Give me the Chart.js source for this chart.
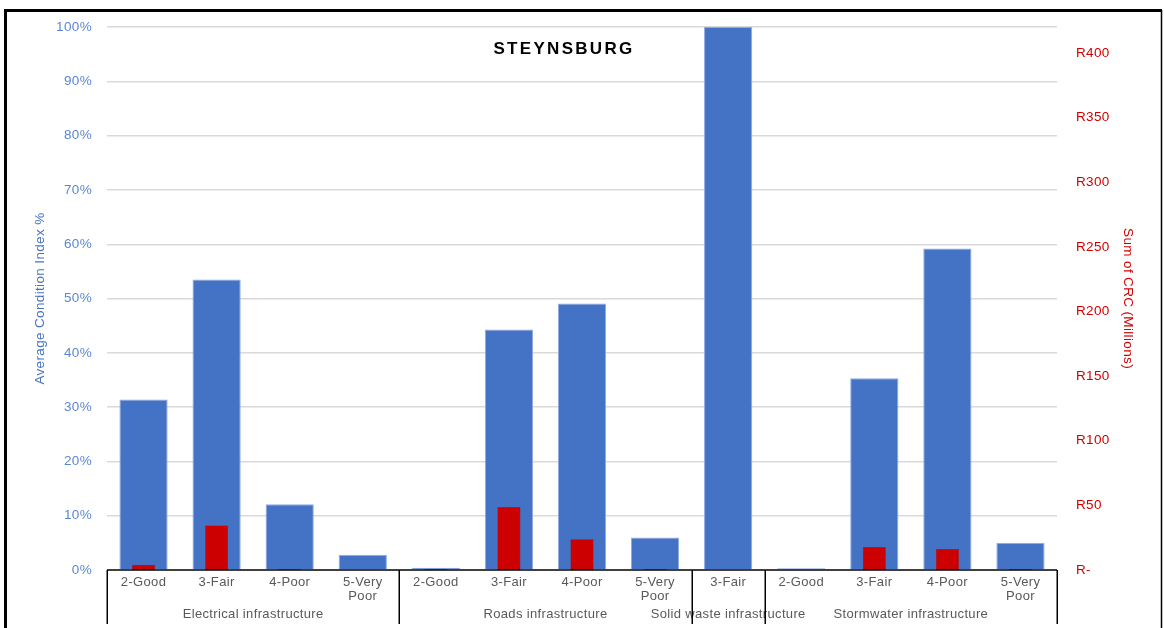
<!DOCTYPE html>
<html>
<head>
<meta charset="utf-8">
<script src="https://cdn.jsdelivr.net/npm/chart.js@4.4.1/dist/chart.umd.min.js"></script>
<style>
  html, body { margin: 0; padding: 0; background: #ffffff; }
  #wrap { position: relative; width: 1164px; height: 628px; }
</style>
</head>
<body>
<div id="wrap"><canvas id="chart" width="1164" height="628"></canvas></div>
<script>
// Condition categories along the x axis (multi-line where the label wraps)
const categories = [
  '2-Good', '3-Fair', '4-Poor', ['5-Very', 'Poor'],
  '2-Good', '3-Fair', '4-Poor', ['5-Very', 'Poor'],
  '3-Fair',
  '2-Good', '3-Fair', '4-Poor', ['5-Very', 'Poor']
];

// Infrastructure groups and how many categories each spans
const groupNames = [
  'Electrical infrastructure',
  'Roads infrastructure',
  'Solid waste infrastructure',
  'Stormwater infrastructure'
];
const groupSizes = [4, 4, 1, 4];

// Average condition index (%)
const conditionIndex = [31.4, 53.5, 12.1, 2.8, 0.4, 44.3, 49.1, 6.0, 100, 0.3, 35.3, 59.2, 5.0];

// Sum of CRC (R millions)
const crcMillions = [4.0, 34.5, 0.5, 0, 0.5, 48.8, 23.7, 0.5, 0, 0, 17.8, 16.3, 0.5];

const chartTitle = 'STEYNSBURG';
const leftAxisTitle = 'Average Condition Index %';
const rightAxisTitle = 'Sum of CRC (Millions)';

const FONT = "'Liberation Sans', Arial, sans-serif";
const TRACKING = '0.35px';

// Slightly looser text tracking for all labels
const tracking = {
  id: 'tracking',
  beforeUpdate(chart) { if ('letterSpacing' in chart.ctx) chart.ctx.letterSpacing = TRACKING; },
  beforeDraw(chart) { if ('letterSpacing' in chart.ctx) chart.ctx.letterSpacing = TRACKING; }
};

// Title, outer frame, category axis line and group labels/separators
const decorations = {
  id: 'decorations',
  afterDatasetsDraw(chart) {
    const ctx = chart.ctx;
    const x = chart.scales.x;
    const area = chart.chartArea;
    ctx.save();

    // axis baseline
    ctx.strokeStyle = '#000000';
    ctx.lineWidth = 1.5;
    ctx.beginPath();
    ctx.moveTo(area.left, area.bottom);
    ctx.lineTo(area.right, area.bottom);
    ctx.stroke();

    // group separators and labels
    const half = (x.getPixelForValue(1) - x.getPixelForValue(0)) / 2;
    let start = 0;
    const bounds = [x.getPixelForValue(0) - half];
    ctx.fillStyle = '#595959';
    ctx.font = '13px ' + FONT;
    ctx.textAlign = 'center';
    ctx.textBaseline = 'middle';
    groupSizes.forEach((n, i) => {
      const l = x.getPixelForValue(start) - half;
      const r = x.getPixelForValue(start + n - 1) + half;
      bounds.push(r);
      ctx.fillText(groupNames[i], (l + r) / 2, 614);
      start += n;
    });
    ctx.lineWidth = 1.5;
    ctx.beginPath();
    bounds.forEach(b => {
      const bx = Math.round(b) + 0.25;
      ctx.moveTo(bx, area.bottom);
      ctx.lineTo(bx, 624);
    });
    ctx.stroke();

    // chart title
    ctx.fillStyle = '#000000';
    ctx.font = 'bold 17px ' + FONT;
    if ('letterSpacing' in ctx) ctx.letterSpacing = '2.3px';
    ctx.fillText(chartTitle, 564, 49);

    // outer frame
    ctx.strokeStyle = '#000000';
    ctx.lineWidth = 3;
    ctx.beginPath();
    ctx.moveTo(5.5, 628);
    ctx.lineTo(5.5, 10.5);
    ctx.lineTo(1162, 10.5);
    ctx.stroke();
    ctx.lineWidth = 1.5;
    ctx.beginPath();
    ctx.moveTo(1161.5, 10);
    ctx.lineTo(1161.5, 628);
    ctx.stroke();

    ctx.restore();
  }
};

new Chart(document.getElementById('chart'), {
  type: 'bar',
  data: {
    labels: categories,
    datasets: [
      {
        label: 'Sum of CRC (Millions)',
        data: crcMillions,
        yAxisID: 'y1',
        backgroundColor: '#cc0000',
        borderColor: '#b80000',
        borderWidth: 0.5,
        barPercentage: 0.315,
        categoryPercentage: 1,
        grouped: false,
        order: 0
      },
      {
        label: 'Average Condition Index %',
        data: conditionIndex,
        yAxisID: 'y',
        backgroundColor: '#4472c4',
        borderColor: '#8eaadf',
        borderWidth: 1,
        barPercentage: 0.66,
        categoryPercentage: 1,
        grouped: false,
        order: 1
      }
    ]
  },
  options: {
    responsive: false,
    animation: false,
    devicePixelRatio: 1,
    layout: { padding: { top: 24, bottom: 0, left: 0, right: 0 } },
    plugins: {
      legend: { display: false },
      title: { display: false },
      tooltip: { enabled: false }
    },
    scales: {
      x: {
        grid: { display: false, drawTicks: false },
        border: { display: false },
        ticks: {
          color: '#595959',
          font: { family: FONT, size: 13, lineHeight: 1.05 },
          padding: 6,
          maxRotation: 0,
          autoSkip: false
        },
        afterFit(scale) { scale.height = 58; }
      },
      y: {
        position: 'left',
        min: 0,
        max: 100,
        grid: {
          drawTicks: false,
          color: ctx => (ctx.tick && ctx.tick.value === 0) ? 'rgba(0,0,0,0)' : '#d9d9d9',
          lineWidth: 1.5
        },
        border: { display: false },
        ticks: {
          stepSize: 10,
          color: '#5b86d4',
          padding: 15,
          font: { family: FONT, size: 13.5 },
          callback: v => v + '%'
        },
        title: {
          display: true,
          text: leftAxisTitle,
          color: '#4472c4',
          font: { family: FONT, size: 13.5 },
          padding: { top: 32, bottom: 0 }
        },
        afterFit(scale) { scale.width = 107; }
      },
      y1: {
        position: 'right',
        min: 0,
        max: 420,
        grid: { display: false, drawTicks: false },
        border: { display: false },
        ticks: {
          stepSize: 50,
          color: '#d00000',
          padding: 19,
          font: { family: FONT, size: 13.5 },
          callback: v => v === 0 ? 'R-' : 'R' + v
        },
        afterBuildTicks(scale) {
          scale.ticks = scale.ticks.filter(t => t.value <= 400);
        },
        title: {
          display: true,
          text: rightAxisTitle,
          color: '#d00000',
          font: { family: FONT, size: 13.5 },
          padding: { top: 28, bottom: 0 }
        },
        afterFit(scale) { scale.width = 107; }
      }
    }
  },
  plugins: [tracking, decorations]
});
</script>
</body>
</html>
